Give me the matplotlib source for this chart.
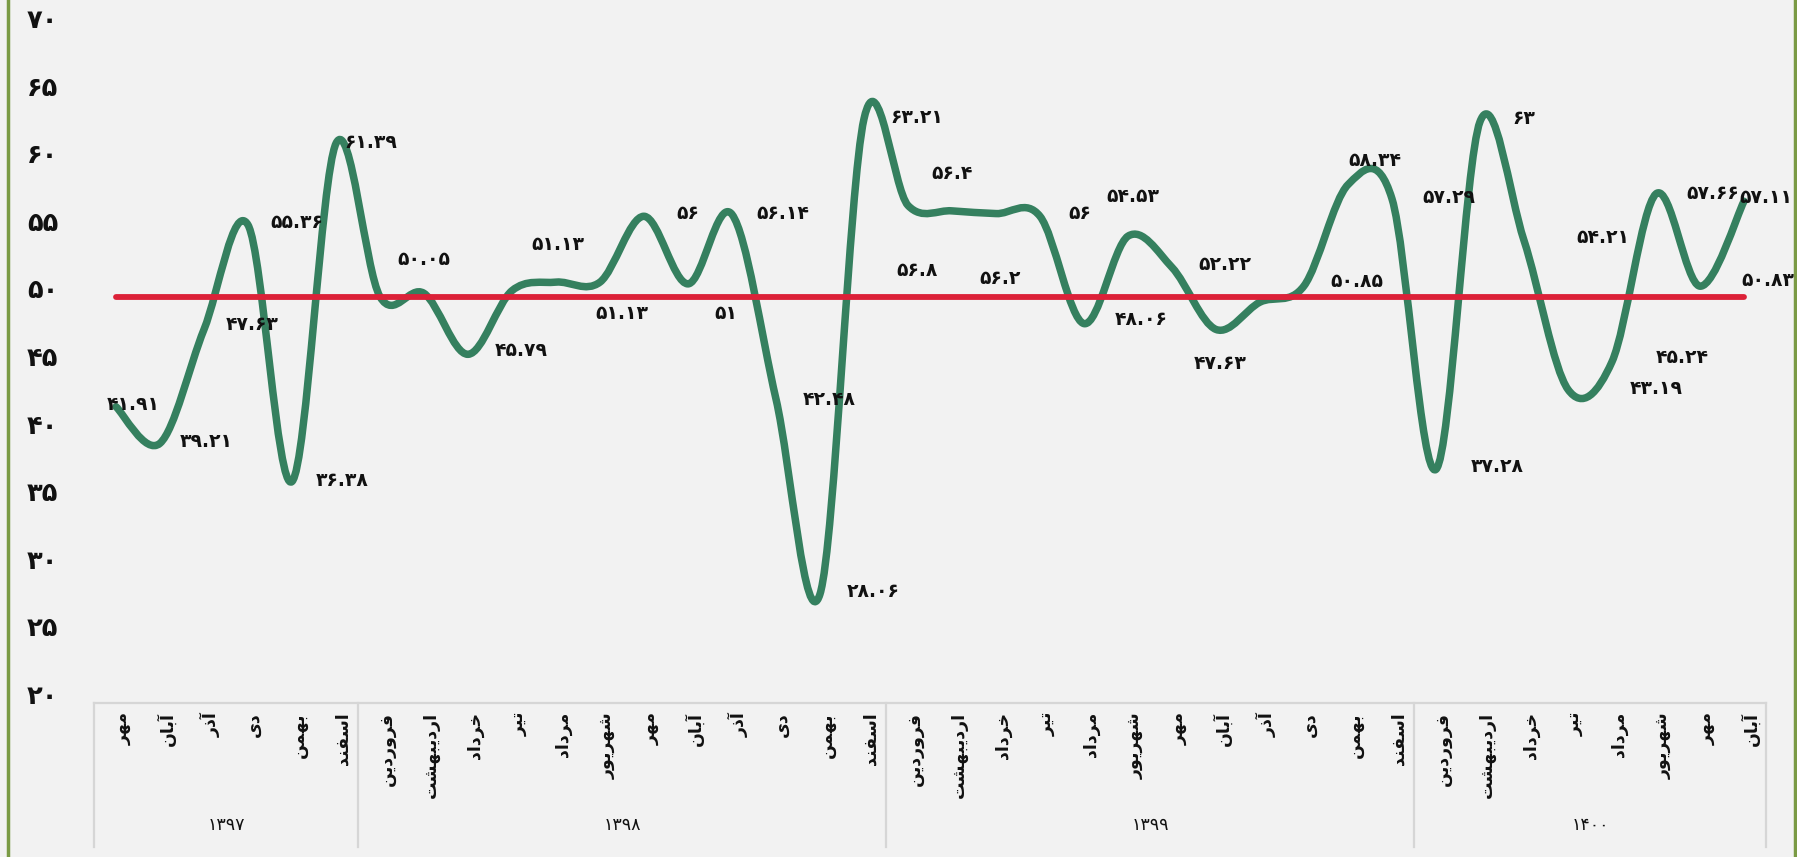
import numpy as np
import matplotlib.pyplot as plt
from matplotlib.path import Path
from matplotlib.patches import PathPatch
from matplotlib.lines import Line2D
import matplotlib.transforms as mtransforms

# ---- data ----
years = ['1397', '1398', '1399', '1400']
year_counts = [6, 12, 12, 8]
months = ['مهر', 'آبان', 'آذر', 'دی', 'بهمن', 'اسفند',
          'فروردین', 'اردیبهشت', 'خرداد', 'تیر', 'مرداد', 'شهریور',
          'مهر', 'آبان', 'آذر', 'دی', 'بهمن', 'اسفند',
          'فروردین', 'اردیبهشت', 'خرداد', 'تیر', 'مرداد', 'شهریور',
          'مهر', 'آبان', 'آذر', 'دی', 'بهمن', 'اسفند',
          'فروردین', 'اردیبهشت', 'خرداد', 'تیر', 'مرداد', 'شهریور',
          'مهر', 'آبان']
values = [41.91, 39.21, 47.63, 55.36, 36.38, 61.39,
          50.05, 50.3, 45.79, 50.5, 51.13, 51.13, 56, 51, 56.14, 42.48, 28.06, 63.21,
          56.8, 56.4, 56.2, 56, 48.06, 54.53, 52.22, 47.63, 49.65, 50.85, 58.34, 57.29,
          37.28, 63, 54.21, 43.19, 45.24, 57.66, 50.83, 57.11]
hidden_labels = [7, 9, 26]
threshold = 50
yticks = [20, 25, 30, 35, 40, 45, 50, 55, 60, 65, 70]

# label nudges (category units, value units) from the point
label_dx = [0.4, 1.05, 1.1, 1.1, 1.15, 0.8,
            1.0, 1.0, 1.2, 1.0, 0.05, 0.5, 1.0, 0.85, 1.15, 1.2, 1.2, 1.2,
            0.2, 0.0, 0.1, 0.9, 1.3, 0.1, 1.2, 0.1, 1.0, 1.2, 0.6, 1.3,
            1.4, 1.0, 1.8, 2.0, 1.6, 1.3, 1.55, 0.5]
label_dy = [0.2, 0.1, 0.4, 0.2, 0.1, 0.1,
            2.75, 0, 0.3, 0, 2.8, -2.3, 0.2, -2.2, 0.1, 0, 0.2, 0.1,
            -4.8, 2.8, -4.8, 0.2, 0.3, 2.9, 0.2, -2.5, 0, 0.35, 1.8, 0.1,
            0.2, 0.2, 0.2, 0.1, 0.3, 0.0, 0.4, 0.3]

GREEN = '#35805f'
RED = '#dc2138'
OLIVE = '#7a9a44'
GRAY = '#d6d6d6'
BG = '#f2f2f2'

# ---- persian text helpers (matplotlib has no RTL shaping) ----
FORMS = {
    'ا': ('\uFE8D', '\uFE8E'), 'آ': ('\uFE81', '\uFE82'),
    'د': ('\uFEA9', '\uFEAA'), 'ذ': ('\uFEAB', '\uFEAC'),
    'ر': ('\uFEAD', '\uFEAE'), 'و': ('\uFEED', '\uFEEE'),
    'ب': ('\uFE8F', '\uFE90', '\uFE91', '\uFE92'),
    'ت': ('\uFE95', '\uFE96', '\uFE97', '\uFE98'),
    'خ': ('\uFEA5', '\uFEA6', '\uFEA7', '\uFEA8'),
    'س': ('\uFEB1', '\uFEB2', '\uFEB3', '\uFEB4'),
    'ش': ('\uFEB5', '\uFEB6', '\uFEB7', '\uFEB8'),
    'ف': ('\uFED1', '\uFED2', '\uFED3', '\uFED4'),
    'م': ('\uFEE1', '\uFEE2', '\uFEE3', '\uFEE4'),
    'ن': ('\uFEE5', '\uFEE6', '\uFEE7', '\uFEE8'),
    'ه': ('\uFEE9', '\uFEEA', '\uFEEB', '\uFEEC'),
    'ی': ('\uFBFC', '\uFBFD', '\uFBFE', '\uFBFF'),
}


def shape(word):
    out = []
    for k, ch in enumerate(word):
        f = FORMS[ch]
        prev_joins = k > 0 and len(FORMS[word[k - 1]]) == 4
        next_joins = len(f) == 4 and k + 1 < len(word)
        if prev_joins and next_joins:
            g = f[3]
        elif prev_joins:
            g = f[1]
        elif next_joins:
            g = f[2]
        else:
            g = f[0]
        out.append(g)
    return ''.join(reversed(out))


FA_DIGITS = str.maketrans('0123456789', '۰۱۲۳۴۵۶۷۸۹')


def fa_num(v):
    return ('{:g}'.format(v)).translate(FA_DIGITS)


plt.rcParams['font.family'] = ['DejaVu Sans']

fig = plt.figure(figsize=(17.97, 8.57), dpi=100, facecolor=BG)
W, H = 1797, 857
ax_left, ax_right, ax_top, ax_bottom = 94, 1766, 27, 703
ax = fig.add_axes([ax_left / W, 1 - ax_bottom / H,
                   (ax_right - ax_left) / W, (ax_bottom - ax_top) / H])
ax.set_facecolor('none')

n = len(values)
x = np.arange(n)
y = np.array(values, dtype=float)

# smoothed line: bezier segments through the points
pts = np.column_stack([x, y])
ext = np.vstack([pts[0], pts, pts[-1]])
verts = [pts[0]]
codes = [Path.MOVETO]
for i in range(n - 1):
    p0, p1, p2, p3 = ext[i], ext[i + 1], ext[i + 2], ext[i + 3]
    verts += [p1 + (p2 - p0) / 6, p2 - (p3 - p1) / 6, p2]
    codes += [Path.CURVE4] * 3
ax.add_patch(PathPatch(Path(verts, codes), fill=False, edgecolor=GREEN,
                       lw=5.4, capstyle='round', joinstyle='round', zorder=2))

ax.plot(x, [threshold] * n, color=RED, lw=4.2, solid_capstyle='round', zorder=3)

for i, v in enumerate(values):
    if i in hidden_labels:
        continue
    ax.text(i + label_dx[i], v + label_dy[i], fa_num(v), ha='center', va='center',
            fontsize=13.5, fontweight='bold', color='#111111', zorder=4)

ax.set_xlim(-0.5, n - 0.5)
ax.set_ylim(20, 70)
ax.set_xticks([])
ax.set_yticks([])
for s in ax.spines.values():
    s.set_visible(False)

# y labels, drawn a little high like the reference
ytrans = mtransforms.blended_transform_factory(fig.transFigure, ax.transData)
lift = mtransforms.ScaledTranslation(0, 6 / 100, fig.dpi_scale_trans)
for t in yticks:
    ax.text(27 / W, t, fa_num(t), ha='left', va='center', fontsize=18.5,
            fontweight='bold', transform=ytrans + lift, color='#111111')

# category box under the plot
trans = mtransforms.blended_transform_factory(ax.transData, ax.transAxes)
px = 1 / (ax_bottom - ax_top)
box_bottom = -(847 - ax_bottom) * px
ax.plot([-0.5, n - 0.5], [0, 0], color=GRAY, lw=1.6, transform=trans, clip_on=False)
edges = np.concatenate([[0], np.cumsum(year_counts)]) - 0.5
for e in edges:
    ax.plot([e, e], [0, box_bottom], color=GRAY, lw=1.6, transform=trans, clip_on=False)
for i, m in enumerate(months):
    ax.text(i + 0.15, -9 * px, shape(m), rotation=90, ha='center', va='top',
            fontsize=12.5, fontweight='bold', transform=trans, color='#111111')
for k, yr in enumerate(years):
    mid = (edges[k] + edges[k + 1]) / 2
    ax.text(mid, -(825 - ax_bottom) * px, yr.translate(FA_DIGITS), ha='center', va='center',
            fontsize=12.5, transform=trans, color='#111111')

# olive frame edges
fig.add_artist(Line2D([8 / W, 8 / W], [0, 1], color=OLIVE, lw=2.5, transform=fig.transFigure))
fig.add_artist(Line2D([1795 / W, 1795 / W], [0, 1], color=OLIVE, lw=2.5, transform=fig.transFigure))

fig.savefig('out.png', dpi=100, facecolor=BG)
